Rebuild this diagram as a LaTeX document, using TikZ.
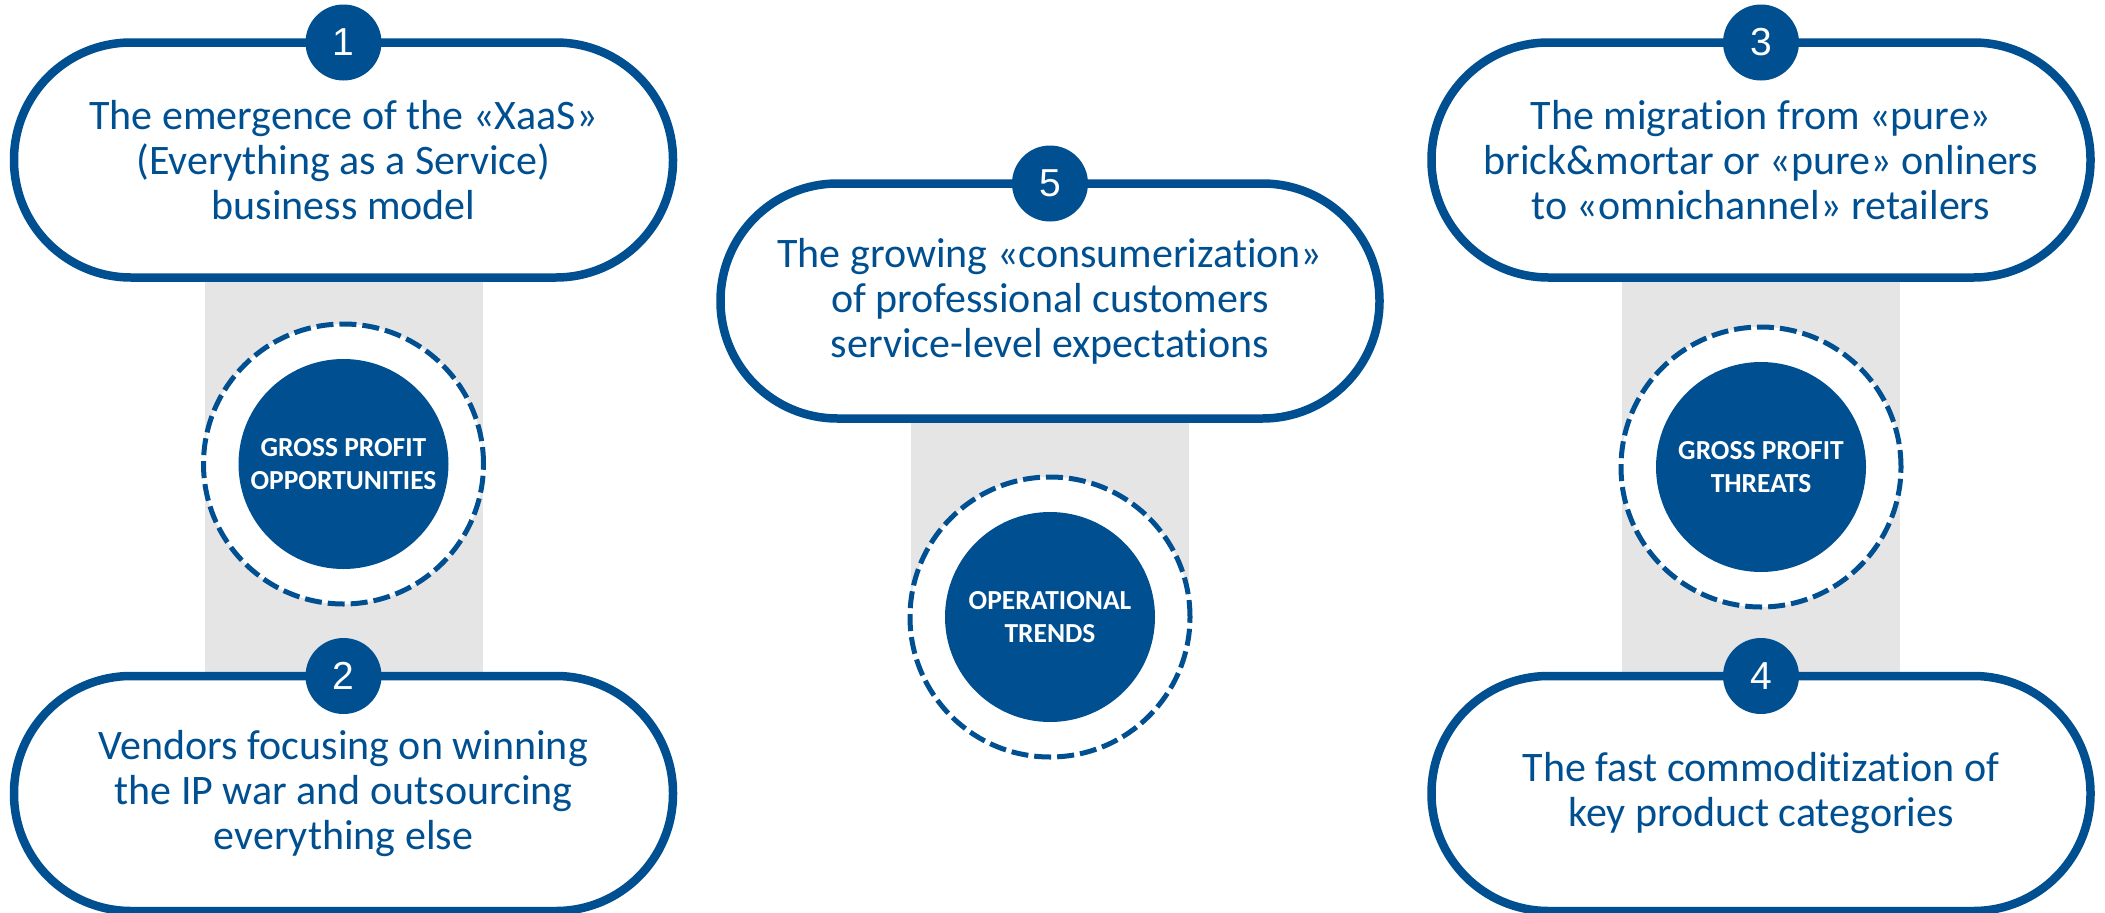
\documentclass[tikz,border=0pt]{standalone}
\usepackage{fontspec}
\setmainfont{Carlito}[Ligatures=NoCommon]
\newfontfamily\numfont{Liberation Sans}
\usetikzlibrary{backgrounds}

\definecolor{trendblue}{RGB}{0,80,145}
\definecolor{bargray}{RGB}{229,229,229}

\tikzset{
  trendbox/.style={draw=trendblue, line width=8.5pt, fill=white, rounded corners=117pt,
    minimum width=659pt, minimum height=235pt, inner sep=0pt, outer sep=0pt,
    align=center, text=trendblue, font=\fontsize{42}{45}\selectfont},
  badge/.style={circle, fill=trendblue, minimum size=76pt, inner sep=0pt,
    text=white, font=\numfont\fontsize{39}{39}\selectfont},
  ring/.style={circle, draw=trendblue, fill=white, line width=5pt,
    dash pattern=on 17pt off 6pt, minimum size=280pt, inner sep=0pt},
  core/.style={circle, fill=trendblue, minimum size=210pt, inner sep=0pt,
    align=center, text=white, font=\bfseries\fontsize{27.5}{33}\selectfont},
  bar/.style={fill=bargray}
}

\begin{document}
\begin{tikzpicture}[x=1pt, y=-1pt]
    \useasboundingbox (0,0) rectangle (2105,913);

    % Trend boxes
    \node[trendbox] (box1) at (343.5,160) {The emergence of the «XaaS»\\(Everything as a Service)\\business model};
    \node[trendbox] (box2) at (343.5,793.5) {Vendors focusing on winning\\the IP war and outsourcing\\everything else};
    \node[trendbox] (box3) at (1761,160) {The migration from «pure»\\brick\&mortar or «pure» onliners\\to «omnichannel» retailers};
    \node[trendbox] (box4) at (1761,793.5) {The fast commoditization of\\key product categories};
    \node[trendbox] (box5) at (1050,301) {The growing «consumerization»\\of professional customers\\service-level expectations};

    % Number badges
    \node[badge] (num1) at (box1.north) {1};
    \node[badge] (num2) at (box2.north) {2};
    \node[badge] (num3) at (box3.north) {3};
    \node[badge] (num4) at (box4.north) {4};
    \node[badge] (num5) at (box5.north) {5};

    % Category rings
    \node[ring] (ring1) at (343.5,464) {};
    \node[core] (core1) at (ring1.center) {GROSS PROFIT\\OPPORTUNITIES};
    \node[ring] (ring3) at (1761,467) {};
    \node[core] (core3) at (ring3.center) {GROSS PROFIT\\THREATS};
    \node[ring] (ring5) at (1050,617) {};
    \node[core] (core5) at (ring5.center) {OPERATIONAL\\TRENDS};

    % Gray bars behind
    \begin{pgfonlayer}{background}
        \fill[bar] ([xshift=-139pt]box1.center) rectangle ([xshift=139pt]box2.center);
        \fill[bar] ([xshift=-139pt]box3.center) rectangle ([xshift=139pt]box4.center);
        \fill[bar] ([xshift=-139pt]box5.center) rectangle ([xshift=139pt]ring5.center);
    \end{pgfonlayer}

\end{tikzpicture}
\end{document}
